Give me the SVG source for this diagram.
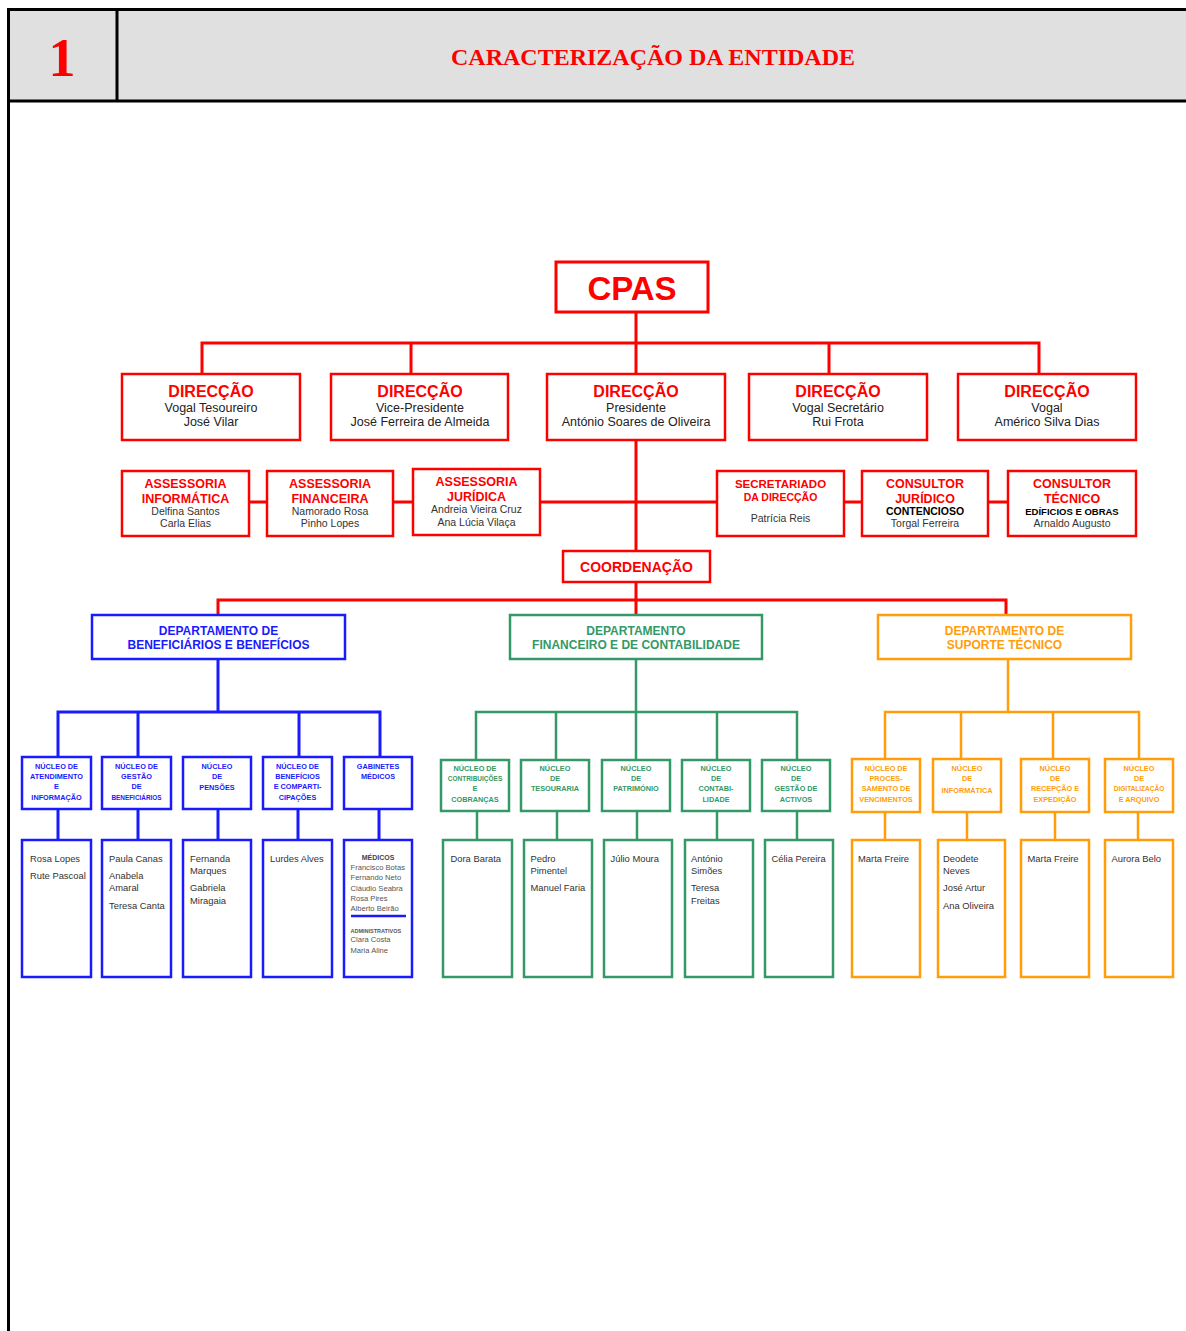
<svg xmlns="http://www.w3.org/2000/svg" width="1186" height="1331" viewBox="0 0 1186 1331">
<style>
text{font-family:"Liberation Sans",Arial,sans-serif}
.rb{fill:#fff;stroke:#ff0000;stroke-width:2.5}
.bb{fill:#fff;stroke:#1a1aff;stroke-width:2.5}
.gb{fill:#fff;stroke:#339966;stroke-width:2.5}
.ob{fill:#fff;stroke:#ff9d0a;stroke-width:2.5}
.rc{fill:none;stroke:#ff0000;stroke-width:3}
.bc{fill:none;stroke:#1a1aff;stroke-width:3}
.gc{fill:none;stroke:#339966;stroke-width:2.5}
.oc{fill:none;stroke:#ff9d0a;stroke-width:2.5}
.c{text-anchor:middle}
.t16{font-size:16px;font-weight:bold;fill:#ff0000}
.n12{font-size:12.5px;fill:#222}
.t12{font-size:12.5px;font-weight:bold;fill:#ff0000}
.n10{font-size:10.5px;fill:#333}
.k10{font-size:10.5px;font-weight:bold;fill:#000}
.dt{font-size:12px;font-weight:bold}
.nb{font-size:7.3px;font-weight:bold;fill:#1a1aff}
.ng{font-size:7.3px;font-weight:bold;fill:#339966}
.no{font-size:7.3px;font-weight:bold;fill:#ff9d0a}
.p{font-size:9.4px;fill:#333}
.ps{font-size:7.6px;fill:#555}
</style>

<!-- header -->
<g id="header">
<rect x="10" y="11" width="1176" height="89" fill="#e0e0e0"/>
<line x1="7" y1="9.5" x2="1186" y2="9.5" stroke="#000" stroke-width="3"/>
<line x1="8" y1="101" x2="1186" y2="101" stroke="#000" stroke-width="3"/>
<line x1="8.5" y1="8" x2="8.5" y2="1331" stroke="#000" stroke-width="3"/>
<line x1="117" y1="11" x2="117" y2="100" stroke="#000" stroke-width="3"/>
<text x="62" y="76" text-anchor="middle" style="font-family:'Liberation Serif','Times New Roman',serif;font-size:54px;font-weight:bold;fill:#ff0000">1</text>
<text x="653" y="65" text-anchor="middle" style="font-family:'Liberation Serif','Times New Roman',serif;font-size:24px;font-weight:bold;fill:#ff0000">CARACTERIZAÇÃO DA ENTIDADE</text>
</g>

<!-- connectors -->
<g id="connectors">
<path class="rc" d="M636 312V374M202 374V343H1039V374M411 343V374M829 343V374"/>
<path class="rc" d="M636 440V551M540 502H717M249 502H267M393 502H413M844 502H862M988 502H1008"/>
<path class="rc" d="M636 582V615M218 615V600H1006V615"/>
<path class="bc" d="M218 660V712M58 757V712H380V757M138 712V757M299 712V757"/>
<path class="bc" d="M58 809V840M138 809V840M218 809V840M298 809V840M379 809V840"/>
<path class="gc" d="M636 660V760M476 760V712H797V760M556 712V760M717 712V760"/>
<path class="gc" d="M477 811V840M557 811V840M637 811V840M717 811V840M797 811V840"/>
<path class="oc" d="M1008 660V712M885 759V712H1139V759M961 712V759M1053 712V759"/>
<path class="oc" d="M885 812V840M967 812V840M1055 812V840M1138 812V840"/>
</g>

<!-- top -->
<g id="cpas">
<rect class="rb" x="556" y="262" width="152" height="50" style="stroke-width:3"/>
<text class="c" x="632" y="300" style="font-size:33px;font-weight:bold;fill:#ff0000">CPAS</text>
</g>

<g id="dir-tesoureiro">
<rect class="rb" x="122" y="374" width="178" height="66"/>
<text class="c t16" x="211" y="397">DIRECÇÃO</text>
<text class="c n12" x="211" y="412">Vogal Tesoureiro</text>
<text class="c n12" x="211" y="426">José Vilar</text>
</g>
<g id="dir-vice">
<rect class="rb" x="331" y="374" width="177" height="66"/>
<text class="c t16" x="420" y="397">DIRECÇÃO</text>
<text class="c n12" x="420" y="412">Vice-Presidente</text>
<text class="c n12" x="420" y="426">José Ferreira de Almeida</text>
</g>
<g id="dir-presidente">
<rect class="rb" x="547" y="374" width="178" height="66"/>
<text class="c t16" x="636" y="397">DIRECÇÃO</text>
<text class="c n12" x="636" y="412">Presidente</text>
<text class="c n12" x="636" y="426">António Soares de Oliveira</text>
</g>
<g id="dir-secretario">
<rect class="rb" x="749" y="374" width="178" height="66"/>
<text class="c t16" x="838" y="397">DIRECÇÃO</text>
<text class="c n12" x="838" y="412">Vogal Secretário</text>
<text class="c n12" x="838" y="426">Rui Frota</text>
</g>
<g id="dir-vogal">
<rect class="rb" x="958" y="374" width="178" height="66"/>
<text class="c t16" x="1047" y="397">DIRECÇÃO</text>
<text class="c n12" x="1047" y="412">Vogal</text>
<text class="c n12" x="1047" y="426">Américo Silva Dias</text>
</g>

<!-- assessorias -->
<g id="ass-informatica">
<rect class="rb" x="122" y="471" width="127" height="65"/>
<text class="c t12" x="185.5" y="488">ASSESSORIA</text>
<text class="c t12" x="185.5" y="503">INFORMÁTICA</text>
<text class="c n10" x="185.5" y="515">Delfina Santos</text>
<text class="c n10" x="185.5" y="527">Carla Elias</text>
</g>
<g id="ass-financeira">
<rect class="rb" x="267" y="471" width="126" height="65"/>
<text class="c t12" x="330" y="488">ASSESSORIA</text>
<text class="c t12" x="330" y="503">FINANCEIRA</text>
<text class="c n10" x="330" y="515">Namorado Rosa</text>
<text class="c n10" x="330" y="527">Pinho Lopes</text>
</g>
<g id="ass-juridica">
<rect class="rb" x="413" y="469" width="127" height="66"/>
<text class="c t12" x="476.5" y="486">ASSESSORIA</text>
<text class="c t12" x="476.5" y="501">JURÍDICA</text>
<text class="c n10" x="476.5" y="513">Andreia Vieira Cruz</text>
<text class="c n10" x="476.5" y="526">Ana Lúcia Vilaça</text>
</g>
<g id="secretariado">
<rect class="rb" x="717" y="471" width="127" height="65"/>
<text class="c" x="780.5" y="487.5" style="font-size:11.5px;font-weight:bold;fill:#ff0000">SECRETARIADO</text>
<text class="c" x="780.5" y="500.5" style="font-size:10.5px;font-weight:bold;fill:#ff0000">DA DIRECÇÃO</text>
<text class="c n10" x="780.5" y="521.5">Patrícia Reis</text>
</g>
<g id="consultor-juridico">
<rect class="rb" x="862" y="471" width="126" height="65"/>
<text class="c t12" x="925" y="488">CONSULTOR</text>
<text class="c t12" x="925" y="503">JURÍDICO</text>
<text class="c k10" x="925" y="515">CONTENCIOSO</text>
<text class="c n10" x="925" y="527">Torgal Ferreira</text>
</g>
<g id="consultor-tecnico">
<rect class="rb" x="1008" y="471" width="128" height="65"/>
<text class="c t12" x="1072" y="488">CONSULTOR</text>
<text class="c t12" x="1072" y="503">TÉCNICO</text>
<text class="c" x="1072" y="514.5" style="font-size:9.5px;font-weight:bold;fill:#000">EDÍFICIOS E OBRAS</text>
<text class="c n10" x="1072" y="526.5">Arnaldo Augusto</text>
</g>

<g id="coordenacao">
<rect class="rb" x="563" y="551" width="147" height="31"/>
<text class="c" x="636.5" y="572" style="font-size:14px;font-weight:bold;fill:#ff0000">COORDENAÇÃO</text>
</g>

<!-- departments -->
<g id="dep-beneficiarios">
<rect class="bb" x="92" y="615" width="253" height="44"/>
<text class="c dt" x="218.5" y="635" fill="#1a1aff">DEPARTAMENTO DE</text>
<text class="c dt" x="218.5" y="649" fill="#1a1aff">BENEFICIÁRIOS E BENEFÍCIOS</text>
</g>
<g id="dep-financeiro">
<rect class="gb" x="510" y="615" width="252" height="44"/>
<text class="c dt" x="636" y="635" fill="#339966">DEPARTAMENTO</text>
<text class="c dt" x="636" y="649" fill="#339966">FINANCEIRO E DE CONTABILIDADE</text>
</g>
<g id="dep-suporte">
<rect class="ob" x="878" y="615" width="253" height="44"/>
<text class="c dt" x="1004.5" y="635" fill="#ff9d0a">DEPARTAMENTO DE</text>
<text class="c dt" x="1004.5" y="649" fill="#ff9d0a">SUPORTE TÉCNICO</text>
</g>

<!-- blue nucleos -->
<g id="nb1">
<rect class="bb" x="22" y="757" width="69" height="52"/>
<text class="c nb" x="56.5" y="768.5">NÚCLEO DE</text>
<text class="c nb" x="56.5" y="779">ATENDIMENTO</text>
<text class="c nb" x="56.5" y="789">E</text>
<text class="c nb" x="56.5" y="799.5">INFORMAÇÃO</text>
</g>
<g id="nb2">
<rect class="bb" x="102" y="757" width="69" height="52"/>
<text class="c nb" x="136.5" y="768.5">NÚCLEO DE</text>
<text class="c nb" x="136.5" y="779">GESTÃO</text>
<text class="c nb" x="136.5" y="789">DE</text>
<text class="c nb" x="136.5" y="799.5" style="font-size:6.4px">BENEFICIÁRIOS</text>
</g>
<g id="nb3">
<rect class="bb" x="183" y="757" width="68" height="52"/>
<text class="c nb" x="217" y="768.5">NÚCLEO</text>
<text class="c nb" x="217" y="779">DE</text>
<text class="c nb" x="217" y="789.5">PENSÕES</text>
</g>
<g id="nb4">
<rect class="bb" x="263" y="757" width="69" height="52"/>
<text class="c nb" x="297.5" y="768.5">NÚCLEO DE</text>
<text class="c nb" x="297.5" y="779">BENEFÍCIOS</text>
<text class="c nb" x="297.5" y="789">E COMPARTI-</text>
<text class="c nb" x="297.5" y="799.5">CIPAÇÕES</text>
</g>
<g id="nb5">
<rect class="bb" x="344" y="757" width="68" height="52"/>
<text class="c nb" x="378" y="768.5">GABINETES</text>
<text class="c nb" x="378" y="779">MÉDICOS</text>
</g>

<!-- blue people -->
<g id="pb1">
<rect class="bb" x="22" y="840" width="69" height="137"/>
<text class="p" x="30" y="862">Rosa Lopes</text>
<text class="p" x="30" y="879">Rute Pascoal</text>
</g>
<g id="pb2">
<rect class="bb" x="102" y="840" width="69" height="137"/>
<text class="p" x="109" y="862">Paula Canas</text>
<text class="p" x="109" y="879">Anabela</text>
<text class="p" x="109" y="891">Amaral</text>
<text class="p" x="109" y="909">Teresa Canta</text>
</g>
<g id="pb3">
<rect class="bb" x="183" y="840" width="68" height="137"/>
<text class="p" x="190" y="862">Fernanda</text>
<text class="p" x="190" y="874">Marques</text>
<text class="p" x="190" y="891">Gabriela</text>
<text class="p" x="190" y="904">Miragaia</text>
</g>
<g id="pb4">
<rect class="bb" x="263" y="840" width="69" height="137"/>
<text class="p" x="270" y="862">Lurdes Alves</text>
</g>
<g id="pb5">
<rect class="bb" x="344" y="840" width="68" height="137"/>
<text class="c" x="378" y="860" style="font-size:7px;font-weight:bold;fill:#444">MÉDICOS</text>
<text class="ps" x="350.5" y="870">Francisco Botas</text>
<text class="ps" x="350.5" y="880">Fernando Neto</text>
<text class="ps" x="350.5" y="891">Cláudio Seabra</text>
<text class="ps" x="350.5" y="901">Rosa Pires</text>
<text class="ps" x="350.5" y="911">Alberto Beirão</text>
<line x1="351" y1="916" x2="406" y2="916" stroke="#1a1aff" stroke-width="2.5"/>
<text x="350.5" y="933" style="font-size:5.5px;font-weight:bold;fill:#555">ADMINISTRATIVOS</text>
<text class="ps" x="350.5" y="942">Clara Costa</text>
<text class="ps" x="350.5" y="953">Maria Aline</text>
</g>

<!-- green nucleos -->
<g id="ng1">
<rect class="gb" x="441" y="760" width="68" height="51"/>
<text class="c ng" x="475" y="771">NÚCLEO DE</text>
<text class="c ng" x="475" y="781" style="font-size:6.5px">CONTRIBUIÇÕES</text>
<text class="c ng" x="475" y="791">E</text>
<text class="c ng" x="475" y="802">COBRANÇAS</text>
</g>
<g id="ng2">
<rect class="gb" x="521" y="760" width="68" height="51"/>
<text class="c ng" x="555" y="771">NÚCLEO</text>
<text class="c ng" x="555" y="781">DE</text>
<text class="c ng" x="555" y="791">TESOURARIA</text>
</g>
<g id="ng3">
<rect class="gb" x="602" y="760" width="68" height="51"/>
<text class="c ng" x="636" y="771">NÚCLEO</text>
<text class="c ng" x="636" y="781">DE</text>
<text class="c ng" x="636" y="791">PATRIMÓNIO</text>
</g>
<g id="ng4">
<rect class="gb" x="682" y="760" width="68" height="51"/>
<text class="c ng" x="716" y="771">NÚCLEO</text>
<text class="c ng" x="716" y="781">DE</text>
<text class="c ng" x="716" y="791">CONTABI-</text>
<text class="c ng" x="716" y="802">LIDADE</text>
</g>
<g id="ng5">
<rect class="gb" x="762" y="760" width="68" height="51"/>
<text class="c ng" x="796" y="771">NÚCLEO</text>
<text class="c ng" x="796" y="781">DE</text>
<text class="c ng" x="796" y="791">GESTÃO DE</text>
<text class="c ng" x="796" y="802">ACTIVOS</text>
</g>

<!-- green people -->
<g id="pg1">
<rect class="gb" x="443" y="840" width="69" height="137"/>
<text class="p" x="450.5" y="862">Dora Barata</text>
</g>
<g id="pg2">
<rect class="gb" x="524" y="840" width="68" height="137"/>
<text class="p" x="530.5" y="862">Pedro</text>
<text class="p" x="530.5" y="874">Pimentel</text>
<text class="p" x="530.5" y="891">Manuel Faria</text>
</g>
<g id="pg3">
<rect class="gb" x="604" y="840" width="68" height="137"/>
<text class="p" x="610.5" y="862">Júlio Moura</text>
</g>
<g id="pg4">
<rect class="gb" x="685" y="840" width="68" height="137"/>
<text class="p" x="691" y="862">António</text>
<text class="p" x="691" y="874">Simões</text>
<text class="p" x="691" y="891">Teresa</text>
<text class="p" x="691" y="904">Freitas</text>
</g>
<g id="pg5">
<rect class="gb" x="765" y="840" width="68" height="137"/>
<text class="p" x="771.5" y="862">Célia Pereira</text>
</g>

<!-- orange nucleos -->
<g id="no1">
<rect class="ob" x="852" y="759" width="68" height="53"/>
<text class="c no" x="886" y="771">NÚCLEO DE</text>
<text class="c no" x="886" y="781">PROCES-</text>
<text class="c no" x="886" y="791">SAMENTO  DE</text>
<text class="c no" x="886" y="802">VENCIMENTOS</text>
</g>
<g id="no2">
<rect class="ob" x="933" y="759" width="68" height="53"/>
<text class="c no" x="967" y="771">NÚCLEO</text>
<text class="c no" x="967" y="781">DE</text>
<text class="c no" x="967" y="792.5">INFORMÁTICA</text>
</g>
<g id="no3">
<rect class="ob" x="1021" y="759" width="68" height="53"/>
<text class="c no" x="1055" y="771">NÚCLEO</text>
<text class="c no" x="1055" y="781">DE</text>
<text class="c no" x="1055" y="791">RECEPÇÃO E</text>
<text class="c no" x="1055" y="802">EXPEDIÇÃO</text>
</g>
<g id="no4">
<rect class="ob" x="1105" y="759" width="68" height="53"/>
<text class="c no" x="1139" y="771">NÚCLEO</text>
<text class="c no" x="1139" y="781">DE</text>
<text class="c no" x="1139" y="791" style="font-size:6.5px">DIGITALIZAÇÃO</text>
<text class="c no" x="1139" y="801.5">E ARQUIVO</text>
</g>

<!-- orange people -->
<g id="po1">
<rect class="ob" x="852" y="840" width="68" height="137"/>
<text class="p" x="858" y="862">Marta Freire</text>
</g>
<g id="po2">
<rect class="ob" x="938" y="840" width="67" height="137"/>
<text class="p" x="943" y="862">Deodete</text>
<text class="p" x="943" y="874">Neves</text>
<text class="p" x="943" y="891">José Artur</text>
<text class="p" x="943" y="909">Ana Oliveira</text>
</g>
<g id="po3">
<rect class="ob" x="1021" y="840" width="68" height="137"/>
<text class="p" x="1027.5" y="862">Marta Freire</text>
</g>
<g id="po4">
<rect class="ob" x="1105" y="840" width="68" height="137"/>
<text class="p" x="1111.5" y="862">Aurora Belo</text>
</g>
</svg>
